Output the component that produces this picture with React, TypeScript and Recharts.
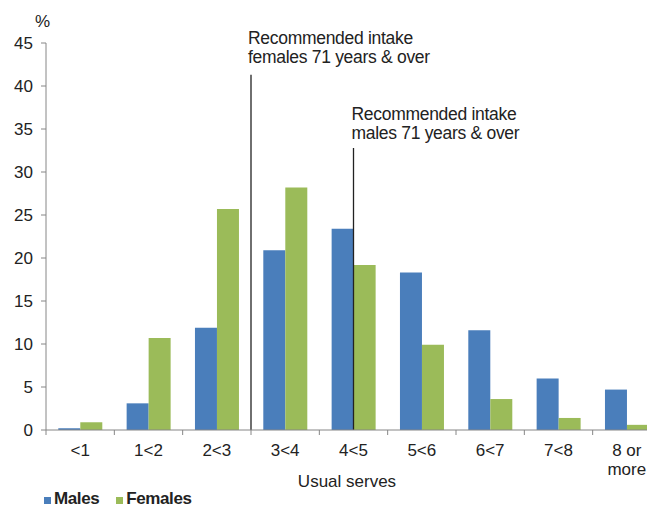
import { Bar, BarChart, Legend, ReferenceLine, XAxis, YAxis } from "recharts";
import { type JSX } from "react";

// usual serves categories (x axis)
const categories: string[] = ["<1", "1<2", "2<3", "3<4", "4<5", "5<6", "6<7", "7<8", "8 or\nmore"];
const seriesNames: string[] = ["Males", "Females"];
// percentage of persons
const males: number[] = [0.2, 3.1, 11.9, 20.9, 23.4, 18.3, 11.6, 6.0, 4.7];
const females: number[] = [0.9, 10.7, 25.7, 28.2, 19.2, 9.9, 3.6, 1.4, 0.6];
const yTicks: number[] = [0, 5, 10, 15, 20, 25, 30, 35, 40, 45];

// recommended intake markers
const femaleIntakeAt = "3<4";
const femaleIntakeTop = 41.3;
const maleIntakeAt = "4<5";
const maleIntakeTop = 32.8;

const BLUE = "#4A7EBB";
const GREEN = "#9BBB59";
const AXIS = "#868686";
const TEXT = "#222";

const data = categories.map((c, i) => ({ serves: c, Males: males[i], Females: females[i] }));

const XTick = (props: any) => {
  const { x, y, payload } = props;
  const left = x - payload.offset;
  const lines = String(payload.value).split("\n");
  return (
    <g>
      <line x1={left} x2={left} y1={y - 5} y2={y} stroke={AXIS} />
      <text x={x} y={y} textAnchor="middle" fill={TEXT} fontSize={17}>
        {lines.map((l, i) => (
          <tspan key={l} x={x} dy={i === 0 ? 21 : 19}>
            {l}
          </tspan>
        ))}
      </text>
    </g>
  );
};

const intakeLabel =
  (line2: string, dx: number, dy: number) =>
  ({ viewBox }: any) => (
    <text x={viewBox.x + dx} y={viewBox.y + dy} fill={TEXT} fontSize={17.5} letterSpacing={-0.3}>
      <tspan x={viewBox.x + dx}>Recommended intake</tspan>
      <tspan x={viewBox.x + dx} dy={19.5}>
        {line2}
      </tspan>
    </text>
  );

const renderLegend = ({ payload }: any) => {
  const items = [...(payload ?? [])].sort(
    (a: any, b: any) => seriesNames.indexOf(a.value) - seriesNames.indexOf(b.value)
  );
  return (
    <div style={{ display: "flex", fontWeight: "bold", fontSize: 17, color: TEXT, letterSpacing: -0.4 }}>
      {items.map((p: any) => (
        <div key={p.value} style={{ display: "flex", alignItems: "center", marginRight: 17 }}>
          <span style={{ width: 7, height: 7, background: p.color, marginRight: 3, marginTop: 3 }} />
          {p.value}
        </div>
      ))}
    </div>
  );
};

const App = (): JSX.Element => {
  return (
    <div
      style={{
        position: "absolute",
        left: 0,
        top: 0,
        width: 647,
        height: 508,
        overflow: "hidden",
        background: "#fff",
        fontFamily: "'Liberation Sans', Arial, sans-serif",
      }}
    >
      <BarChart
        width={661}
        height={508}
        data={data}
        margin={{ top: 43, right: 0, bottom: 0, left: 0 }}
        barCategoryGap="18%"
        barGap={0}
      >
        <XAxis
          dataKey="serves"
          height={78}
          interval={0}
          tickLine={false}
          tickSize={5}
          tickMargin={0}
          axisLine={{ stroke: AXIS }}
          tick={<XTick />}
          label={({ viewBox }: any) => (
            <text x={viewBox.x + 301} y={viewBox.y + 57} textAnchor="middle" fill={TEXT} fontSize={17}>
              Usual serves
            </text>
          )}
        />
        <YAxis
          width={46}
          domain={[0, 45]}
          ticks={yTicks}
          interval={0}
          tickSize={5}
          tickMargin={8}
          axisLine={{ stroke: AXIS }}
          tickLine={{ stroke: AXIS }}
          tick={{ fill: TEXT, fontSize: 17 }}
          label={({ viewBox }: any) => (
            <text x={35} y={viewBox.y - 16} fill={TEXT} fontSize={17}>
              %
            </text>
          )}
        />
        <Bar dataKey="Males" fill={BLUE} isAnimationActive={false} />
        <Bar dataKey="Females" fill={GREEN} isAnimationActive={false} />
        <ReferenceLine
          segment={[
            { x: femaleIntakeAt, y: 0 },
            { x: femaleIntakeAt, y: femaleIntakeTop },
          ]}
          position="start"
          stroke="#222"
          strokeWidth={1.3}
          label={intakeLabel("females 71 years & over", -3, -31)}
        />
        <ReferenceLine
          segment={[
            { x: maleIntakeAt, y: 0 },
            { x: maleIntakeAt, y: maleIntakeTop },
          ]}
          stroke="#222"
          strokeWidth={1.3}
          label={intakeLabel("males 71 years & over", -2, -28)}
        />
        <Legend
          layout="horizontal"
          verticalAlign="middle"
          align="center"
          wrapperStyle={{ left: 44, top: 489, width: 220 }}
          content={renderLegend}
        />
      </BarChart>
    </div>
  );
};

export default App;
